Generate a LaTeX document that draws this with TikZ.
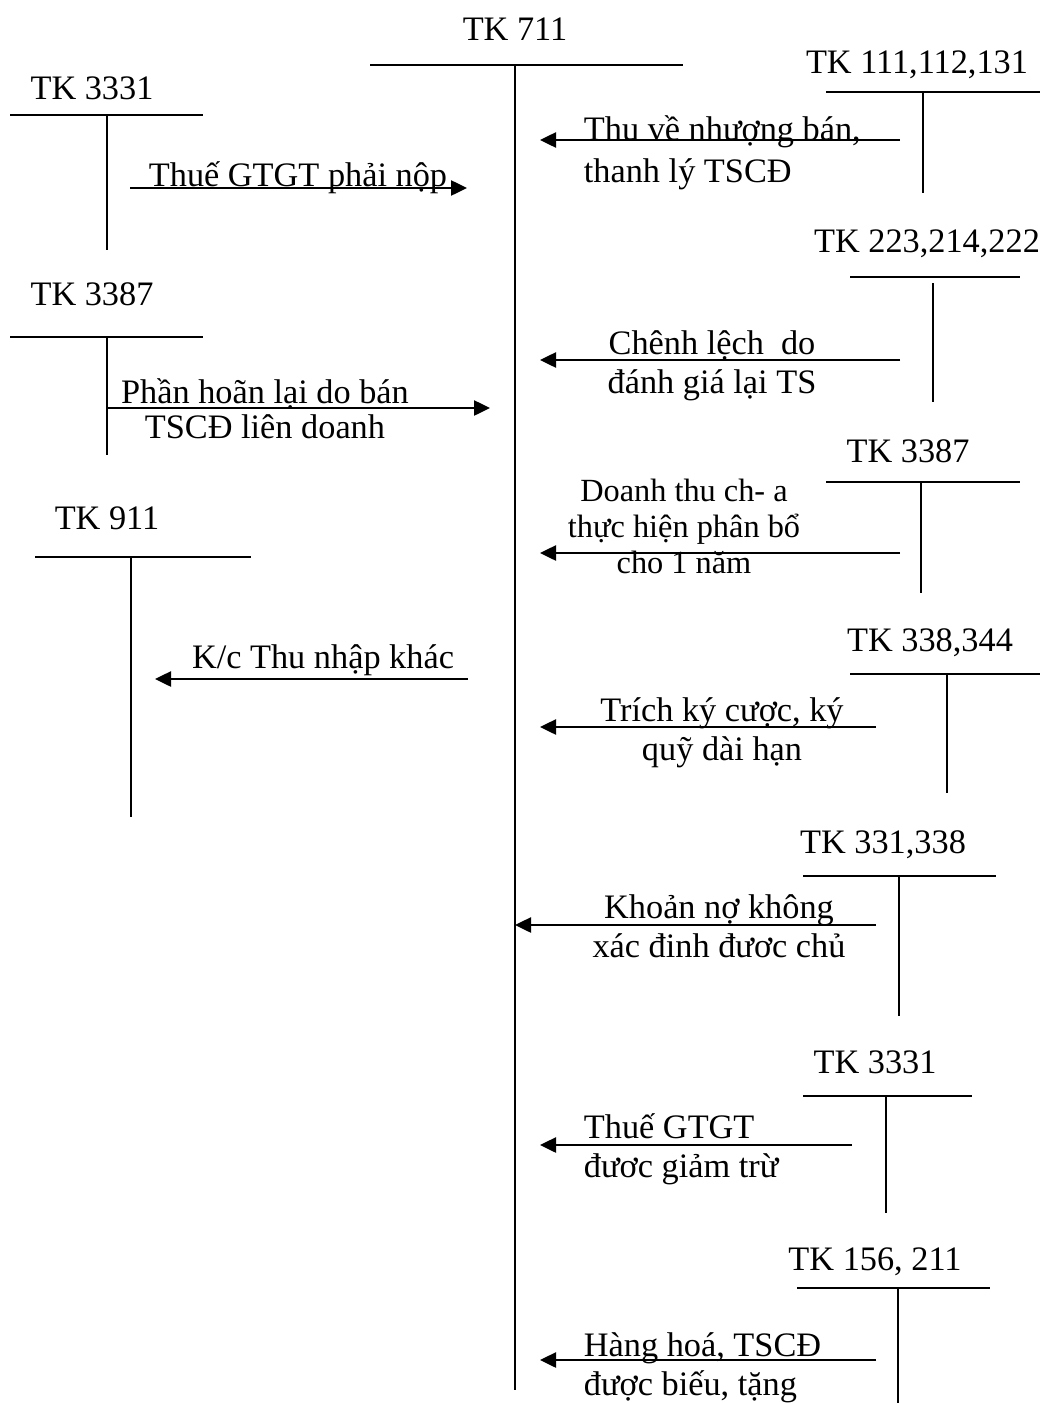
\documentclass[tikz,border=0pt]{standalone}
\usepackage{fontspec}
\setmainfont{Liberation Serif}
\usetikzlibrary{arrows.meta}

\tikzset{
    acct/.style={anchor=base, inner sep=0pt},
    note/.style={anchor=base, inner sep=0pt, align=center},
    noteleft/.style={anchor=base west, inner sep=0pt, align=left},
    flow/.style={-{Triangle[length=0.4cm, width=0.38cm]}}
}

\begin{document}
\begin{tikzpicture}[
    x=0.25cm, y=-0.25cm,
    line width=1.3pt,
    font=\fontsize{24.4}{27.6}\selectfont
]

    \useasboundingbox (0,0) rectangle (104,140.3);

    % TK 711 in the middle
    \node[acct] (tk711) at (51.5,4.0) {TK 711};
    \draw (37,6.5) -- (68.3,6.5);
    \draw (51.5,6.5) -- (51.5,139);

    % TK 3331 (left)
    \node[acct] (l3331) at (9.2,9.9) {TK 3331};
    \draw (1,11.5) -- (20.3,11.5);
    \draw (10.7,11.5) -- (10.7,25);
    \coordinate (l3331a) at (13,18.8);
    \coordinate (l3331b) at (46.7,18.8);
    \draw[flow] (l3331a) -- (l3331b);
    \node[note] (thue) at (29.8,18.6) {Thuế GTGT phải nộp};

    % TK 3387 (left)
    \node[acct] (l3387) at (9.2,30.5) {TK 3387};
    \draw (1,33.7) -- (20.3,33.7);
    \draw (10.7,33.7) -- (10.7,45.5);
    \coordinate (l3387a) at (10.7,40.8);
    \coordinate (l3387b) at (49,40.8);
    \draw[flow] (l3387a) -- (l3387b);
    \node[note, font=\fontsize{24.4}{24.8}\selectfont] (phanhoan) at (26.5,43.8) {Phần hoãn lại do bán\\TSCĐ liên doanh};

    % TK 911
    \node[acct] (l911) at (10.7,52.9) {TK 911};
    \draw (3.5,55.7) -- (25.1,55.7);
    \draw (13.1,55.7) -- (13.1,81.7);
    \coordinate (l911a) at (46.8,67.9);
    \coordinate (l911b) at (15.5,67.9);
    \draw[flow] (l911a) -- (l911b);
    \node[note] (kc) at (32.3,66.8) {K/c Thu nhập khác};

    % TK 111,112,131
    \node[acct] (r111) at (91.7,7.3) {TK 111,112,131};
    \draw (82.6,9.2) -- (104,9.2);
    \draw (92.3,9.2) -- (92.3,19.3);
    \coordinate (r111a) at (90,14);
    \coordinate (r111b) at (54,14);
    \draw[flow] (r111a) -- (r111b);
    \node[noteleft, font=\fontsize{24.4}{29.8}\selectfont] (thuve) at (58.3,18.2) {Thu về nhượng bán,\\thanh lý TSCĐ};

    % TK 223,214,222
    \node[acct] (r223) at (92.7,25.2) {TK 223,214,222};
    \draw (85,27.7) -- (102,27.7);
    \draw (93.3,28.3) -- (93.3,40.2);
    \coordinate (r223a) at (90,36);
    \coordinate (r223b) at (54,36);
    \draw[flow] (r223a) -- (r223b);
    \node[note] (chenh) at (71.2,39.3) {Chênh lệch\ \ do\\đánh giá lại TS};

    % TK 3387 (right)
    \node[acct] (r3387) at (90.8,46.2) {TK 3387};
    \draw (82.6,48.2) -- (102,48.2);
    \draw (92.1,48.2) -- (92.1,59.3);
    \coordinate (r3387a) at (90,55.3);
    \coordinate (r3387b) at (54,55.3);
    \draw[flow] (r3387a) -- (r3387b);
    \node[note, font=\fontsize{23}{25.6}\selectfont] (doanhthu) at (68.4,57.3) {Doanh thu ch- a\\thực hiện phân bổ\\cho 1 năm};

    % TK 338,344
    \node[acct] (r338) at (93,65.1) {TK 338,344};
    \draw (85,67.4) -- (104,67.4);
    \draw (94.7,67.4) -- (94.7,79.3);
    \coordinate (r338a) at (87.6,72.7);
    \coordinate (r338b) at (54,72.7);
    \draw[flow] (r338a) -- (r338b);
    \node[note] (trich) at (72.2,76.0) {Trích ký cược, ký\\quỹ dài hạn};

    % TK 331,338
    \node[acct] (r331) at (88.3,85.3) {TK 331,338};
    \draw (80.3,87.6) -- (99.6,87.6);
    \draw (89.9,87.6) -- (89.9,101.6);
    \coordinate (r331a) at (87.6,92.5);
    \coordinate (r331b) at (51.5,92.5);
    \draw[flow] (r331a) -- (r331b);
    \node[note] (khoan) at (71.9,95.7) {Khoản nợ không\\xác đinh đươc chủ};

    % TK 3331 (right)
    \node[acct] (r3331) at (87.5,107.3) {TK 3331};
    \draw (80.3,109.6) -- (97.2,109.6);
    \draw (88.6,109.6) -- (88.6,121.3);
    \coordinate (r3331a) at (85.2,114.5);
    \coordinate (r3331b) at (54,114.5);
    \draw[flow] (r3331a) -- (r3331b);
    \node[noteleft] (giamtru) at (58.3,117.7) {Thuế GTGT\\đươc giảm trừ};

    % TK 156, 211
    \node[acct] (r156) at (87.5,127) {TK 156, 211};
    \draw (79.7,128.8) -- (99,128.8);
    \draw (89.8,128.8) -- (89.8,140.3);
    \coordinate (r156a) at (87.6,136);
    \coordinate (r156b) at (54,136);
    \draw[flow] (r156a) -- (r156b);
    \node[noteleft] (hanghoa) at (58.3,139.5) {Hàng hoá, TSCĐ\\được biếu, tặng};

\end{tikzpicture}
\end{document}
